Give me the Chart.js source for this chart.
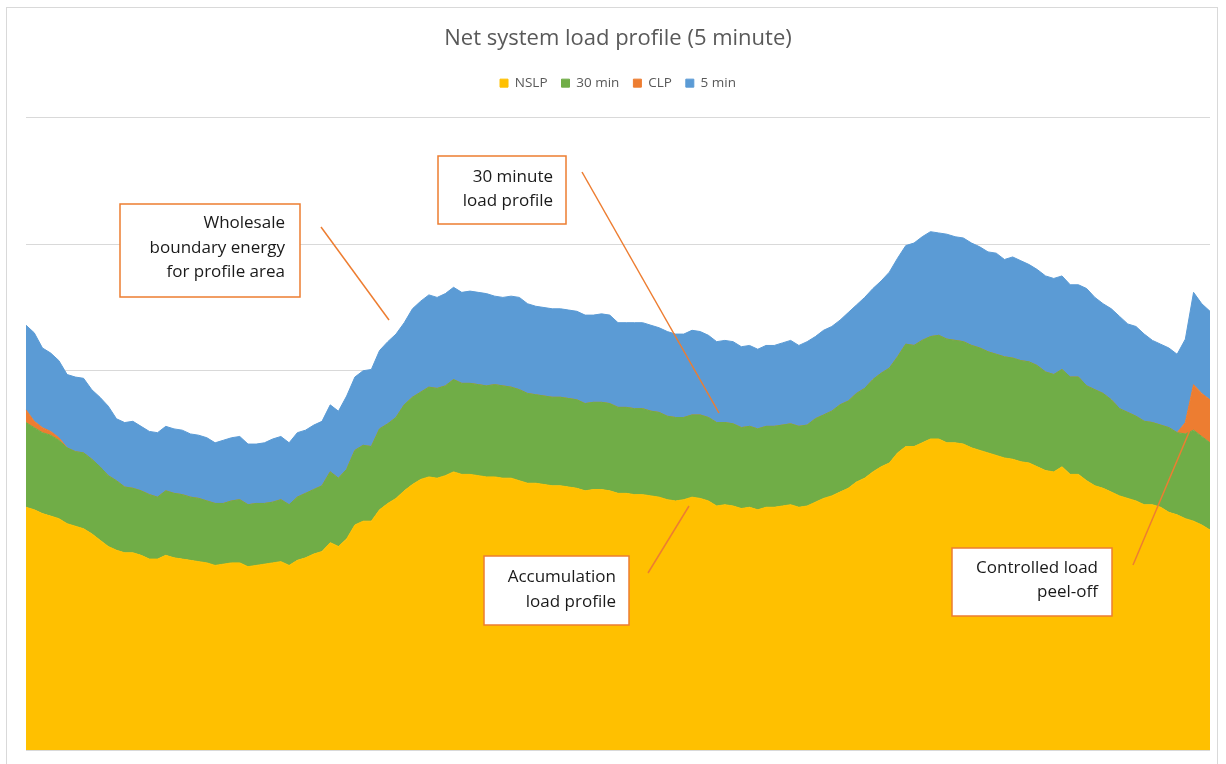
<!DOCTYPE html>
<html>
<head>
<meta charset="utf-8">
<title>Net system load profile (5 minute)</title>
<script src="https://cdn.jsdelivr.net/npm/chart.js@4/dist/chart.umd.min.js"></script>
<style>
  html, body { margin: 0; padding: 0; background: #fff; }
  #wrap { position: relative; width: 1226px; height: 764px; }
</style>
</head>
<body>
<div id="wrap"><canvas id="loadChart"></canvas></div>
<script>
// 10 minute intervals over the day (145 points)
const timeLabels = [];
for (let m = 0; m <= 1440; m += 10) {
  timeLabels.push(String(Math.floor(m / 60)).padStart(2, '0') + ':' + String(m % 60).padStart(2, '0'));
}

// stacked components, MW
const nslp = [
  192,190,187,185,183,179,177,175,171,166,
  161,158,156,156,154,151,151,154,152,151,
  150,149,148,146,147,148,148,145,146,147,
  148,149,146,150,152,155,157,164,161,167,
  178,181,181,190,195,199,205,210,214,216,
  215,217,220,218,218,217,216,216,215,215,
  213,211,211,210,209,209,208,207,205,206,
  206,205,203,203,202,202,201,200,198,197,
  198,200,199,197,193,194,193,191,192,190,
  192,192,193,194,192,193,196,199,201,204,
  207,212,215,220,224,227,235,240,240,243,
  246,246,243,243,242,239,237,235,233,231,
  230,228,227,224,221,220,224,218,218,213,
  209,207,204,201,199,197,194,194,192,188,
  186,183,181,178,174
];
const min30 = [
  67,65,64,64,62,60,59,60,59,58,
  56,55,52,51,51,51,49,51,51,51,
  50,50,49,49,48,49,50,49,49,48,
  48,49,48,50,51,51,52,56,54,55,
  59,60,59,64,63,64,68,69,69,71,
  71,71,73,72,72,72,72,73,73,72,
  72,71,70,70,70,70,70,70,69,69,
  69,69,68,68,68,68,67,67,66,66,
  65,65,66,66,66,65,65,64,64,64,
  64,64,64,64,64,64,66,66,67,69,
  69,70,71,73,74,75,76,81,80,81,
  81,82,82,81,81,81,81,80,80,80,
  80,80,80,80,78,77,77,77,77,75,
  76,75,73,69,68,67,66,65,65,67,
  65,67,72,70,69
];
const clp = [
  10,5,4,3,2,0,0,0,0,0,
  0,0,0,0,0,0,0,0,0,0,
  0,0,0,0,0,0,0,0,0,0,
  0,0,0,0,0,0,0,0,0,0,
  0,0,0,0,0,0,0,0,0,0,
  0,0,0,0,0,0,0,0,0,0,
  0,0,0,0,0,0,0,0,0,0,
  0,0,0,0,0,0,0,0,0,0,
  0,0,0,0,0,0,0,0,0,0,
  0,0,0,0,0,0,0,0,0,0,
  0,0,0,0,0,0,0,0,0,0,
  0,0,0,0,0,0,0,0,0,0,
  0,0,0,0,0,0,0,0,0,0,
  0,0,0,0,0,0,0,0,0,0,
  0,9,36,34,34
];
const min5 = [
  67,70,63,62,61,58,59,59,55,55,
  55,49,51,53,51,50,51,51,51,51,
  50,50,50,48,50,50,50,48,47,48,
  50,50,49,51,50,51,51,53,53,58,
  58,59,61,62,65,66,65,70,72,73,
  72,73,73,72,73,73,73,70,70,72,
  73,71,70,70,70,70,70,70,70,69,
  70,70,67,67,68,68,68,67,67,66,
  66,67,66,65,64,65,65,64,64,63,
  64,64,65,66,64,66,65,67,67,67,
  70,70,72,72,73,76,78,78,81,82,
  83,81,83,82,82,81,80,79,80,77,
  80,79,77,76,76,76,74,73,73,77,
  73,71,72,73,70,71,69,65,64,63,
  62,66,73,71,70
];

const seriesNames = ['NSLP', '30 min', 'CLP', '5 min'];
const seriesColors = ['#FFC000', '#70AD47', '#ED7D31', '#5B9BD5'];
const seriesData = [nslp, min30, clp, min5];

// callout boxes drawn on top of the plot
const callouts = [
  { box: [120, 204, 180, 93], lines: ['Wholesale', 'boundary energy', 'for profile area'], textRight: 285, textY: [223, 248, 272], leader: [321, 227, 389, 320] },
  { box: [438, 156, 128, 68], lines: ['30 minute', 'load profile'], textRight: 553, textY: [177, 201], leader: [582, 172, 719, 413] },
  { box: [484, 556, 145, 69], lines: ['Accumulation', 'load profile'], textRight: 616, textY: [577, 602], leader: [648, 573, 689, 506] },
  { box: [952, 548, 160, 68], lines: ['Controlled load', 'peel-off'], textRight: 1098, textY: [568, 592], leader: [1133, 565, 1190, 430] }
];

const calloutPlugin = {
  id: 'callouts',
  beforeInit(chart) {
    // extra room between the legend and the plot
    const fit = chart.legend.fit;
    chart.legend.fit = function () {
      fit.bind(chart.legend)();
      this.height += 18;
    };
  },
  beforeDraw(chart) {
    const ctx = chart.ctx;
    ctx.save();
    ctx.strokeStyle = '#d9d9d9';
    ctx.lineWidth = 1;
    ctx.strokeRect(6.5, 7.5, 1211, 800);
    ctx.restore();
  },
  afterDraw(chart) {
    const ctx = chart.ctx;
    ctx.save();
    callouts.forEach(c => {
      ctx.strokeStyle = '#ED7D31';
      ctx.lineWidth = 1.5;
      ctx.beginPath();
      ctx.moveTo(c.leader[0], c.leader[1]);
      ctx.lineTo(c.leader[2], c.leader[3]);
      ctx.stroke();
      ctx.fillStyle = '#ffffff';
      ctx.fillRect(c.box[0], c.box[1], c.box[2], c.box[3]);
      ctx.strokeRect(c.box[0], c.box[1], c.box[2], c.box[3]);
      ctx.fillStyle = '#1a1a1a';
      ctx.font = "17px 'Open Sans', sans-serif";
      ctx.textAlign = 'right';
      ctx.textBaseline = 'middle';
      c.lines.forEach((t, i) => ctx.fillText(t, c.textRight, c.textY[i]));
    });
    ctx.restore();
  }
};

Chart.defaults.font.family = "'Open Sans', sans-serif";
Chart.defaults.color = '#595959';

new Chart(document.getElementById('loadChart').getContext('2d'), {
  type: 'line',
  data: {
    labels: timeLabels,
    datasets: seriesData.map((d, i) => ({
      label: seriesNames[i],
      data: d,
      backgroundColor: seriesColors[i],
      borderColor: seriesColors[i],
      borderWidth: 1,
      pointRadius: 0,
      tension: 0,
      fill: i === 0 ? 'origin' : '-1'
    }))
  },
  options: {
    responsive: true,
    maintainAspectRatio: false,
    animation: false,
    layout: { padding: { left: 26, right: 16, top: 0, bottom: 14 } },
    plugins: {
      title: {
        display: true,
        text: 'Net system load profile (5 minute)',
        font: { size: 22, weight: 'normal' },
        color: '#595959',
        padding: { top: 26, bottom: 10 }
      },
      legend: {
        labels: { boxWidth: 8, boxHeight: 8, padding: 14, font: { size: 13.5 }, color: '#595959' }
      },
      tooltip: { enabled: false }
    },
    scales: {
      x: { display: false },
      y: {
        stacked: true,
        min: 0,
        max: 500,
        ticks: { display: false, stepSize: 100 },
        border: { display: false },
        grid: { color: '#d9d9d9', drawTicks: false }
      }
    }
  },
  plugins: [calloutPlugin]
});
</script>
</body>
</html>
